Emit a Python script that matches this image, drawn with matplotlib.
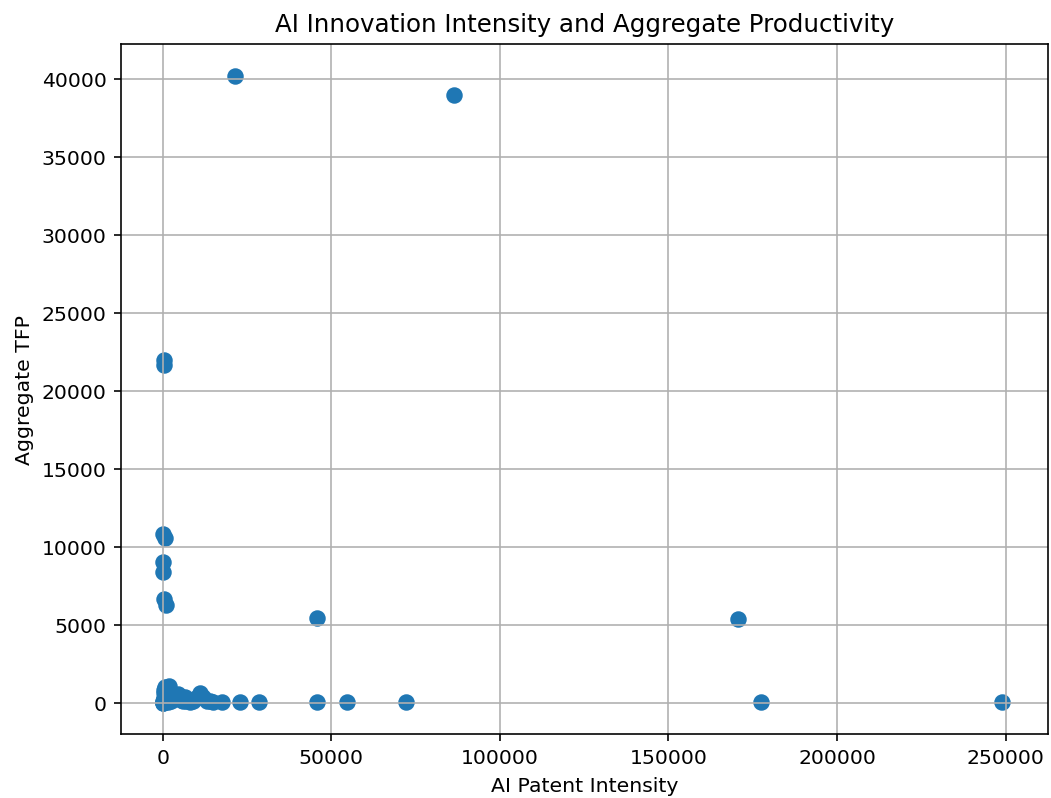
import matplotlib
matplotlib.use('Agg')
import matplotlib.pyplot as plt

# AI patent intensity (x) and aggregate TFP (y)
ai_patent = [21500, 86300, 300, 400, 100, 600, 100, 200, 500, 900,
             45800, 170500,
             22800, 28500, 45800, 54600, 72300, 177500, 249000,
             0, 50, 100, 200, 300, 500, 800, 1200, 1500, 2000,
             2500, 3000, 3500, 4000, 5000, 5500, 6000, 7000, 8000, 9000,
             10000, 11000, 12000, 13000, 14000, 15000, 17500, 800, 1000,
             1500, 2500, 600, 400, 4500, 3200, 6500]
agg_tfp = [40200, 38950, 22000, 21650, 10800, 10600, 9000, 8400, 6650, 6300,
           5450, 5350,
           80, 70, 80, 80, 70, 60, 60,
           0, 20, 50, 100, 300, 800, 1000, 900, 700, 1050,
           600, 400, 500, 300, 450, 200, 150, 100, 80, 120,
           300, 650, 400, 150, 100, 80, 60, 200, 150,
           50, 100, 500, 650, 600, 250, 350]

dpi = 147
fig = plt.figure(figsize=(1051 / dpi, 799 / dpi), dpi=dpi)
ax = fig.add_axes([0.115, 0.080, 0.882, 0.864])
ax.scatter(ai_patent, agg_tfp, s=50, color='#1f77b4')
ax.set_xlim(-12400, 262500)
ax.set_ylim(-2000, 42250)
ax.set_title('AI Innovation Intensity and Aggregate Productivity')
ax.set_xlabel('AI Patent Intensity')
ax.set_ylabel('Aggregate TFP')
ax.grid(True)

fig.savefig('out.png', dpi=dpi)
